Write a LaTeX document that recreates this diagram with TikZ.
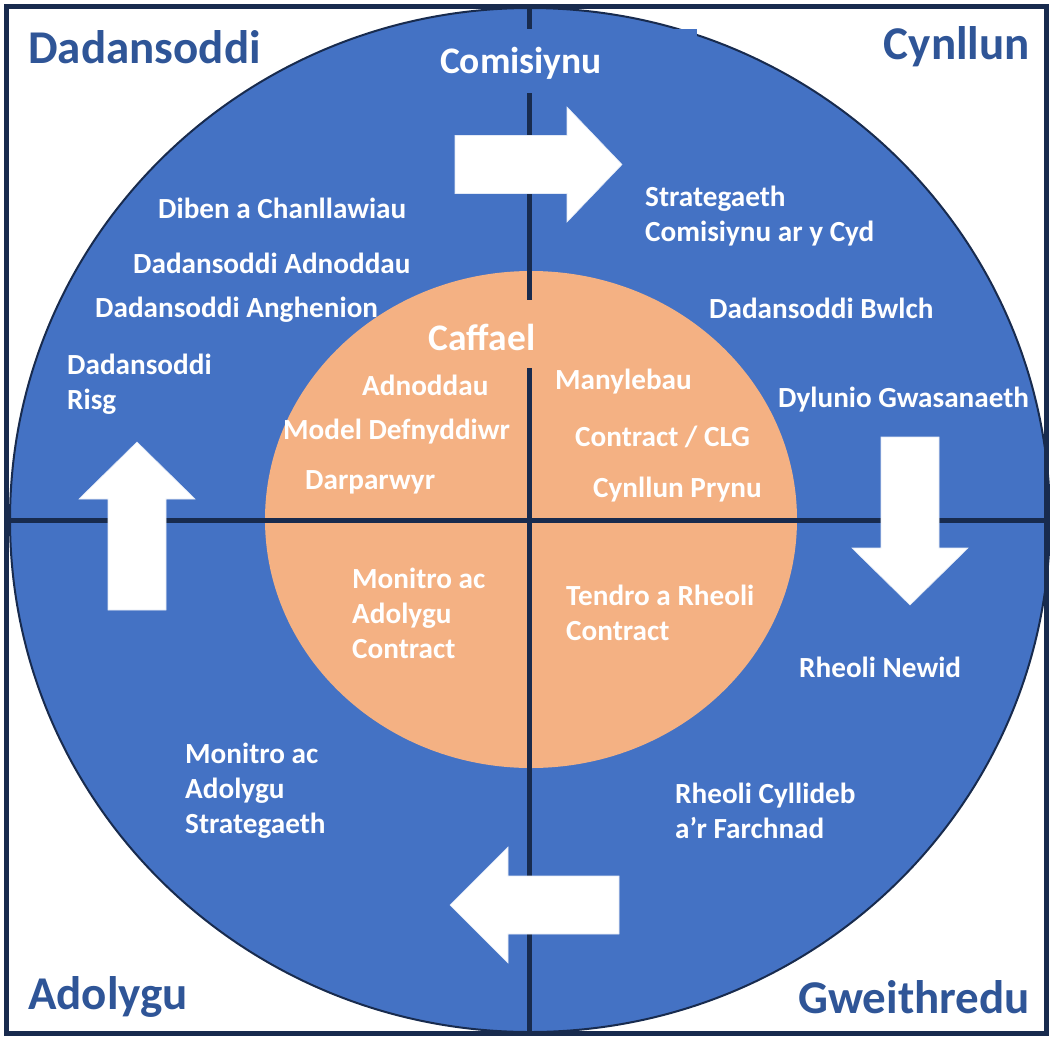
\documentclass[tikz,border=0pt]{standalone}
\usepackage{fontspec}
\setmainfont{Carlito}
\usetikzlibrary{positioning}

\definecolor{cblue}{RGB}{68,114,196}
\definecolor{corange}{RGB}{244,177,131}
\definecolor{cnavy}{RGB}{24,43,78}
\definecolor{ctitle}{RGB}{47,85,151}

\tikzset{
  corner/.style = {inner sep=0pt, text=ctitle, font=\fontsize{47}{56}\selectfont\bfseries},
  item/.style = {inner sep=0pt, text=white, align=left, anchor=west, font=\fontsize{29.2}{35}\selectfont\bfseries},
  head/.style = {inner sep=0pt, text=white, font=\fontsize{37.5}{42}\selectfont\bfseries},
  blockarrow/.style = {fill=white, draw=white!85!cblue, line width=0.6pt},
  divider/.style = {draw=cnavy, line width=5pt},
}

\begin{document}
\begin{tikzpicture}[x=1pt, y=-1pt]
\useasboundingbox (0,0) rectangle (1050,1037);

% wheel
\draw[fill=cblue, draw=cnavy, line width=2pt] (530,520) ellipse [x radius=520, y radius=512];
\fill[corange] (531,519.5) ellipse [x radius=266, y radius=248.5];

% cross
\coordinate (top) at (529,7);
\coordinate (bottom) at (529,1033);
\coordinate (left) at (7,520);
\coordinate (right) at (1046,520);
\draw[divider] (top) -- (bottom);
\draw[divider] (left) -- (right);

% frame
\draw[cnavy, line width=5pt] (6.5,6.5) rectangle (1046,1033);

% headings
\fill[cblue] (420,29) rectangle (697,93);
\node[head] (comisiynu) at (521,63) {Comisiynu};
\fill[corange] (420,300) rectangle (640,368);
\node[head] (caffael) at (482,337) {Caffael};

% arrows
\fill[blockarrow] (455,135.5) -- (567,135.5) -- (567,107) -- (622,164.5) -- (567,222) -- (567,193.5) -- (455,193.5) -- cycle;
\fill[blockarrow] (881,437) -- (939,437) -- (939,548) -- (968,548) -- (910,605) -- (852,548) -- (881,548) -- cycle;
\fill[blockarrow] (619,876) -- (508,876) -- (508,847) -- (450,905) -- (508,963) -- (508,934) -- (619,934) -- cycle;
\fill[blockarrow] (108,610) -- (108,499) -- (79,499) -- (137,442) -- (195,499) -- (166,499) -- (166,610) -- cycle;

% corners
\node[corner, anchor=west] (dadansoddi) at (28,47) {Dadansoddi};
\node[corner, anchor=east] (cynllun) at (1030,47) {Cynllun};
\node[corner, anchor=west] (adolygu) at (28,997) {Adolygu};
\node[corner, anchor=east] (gweithredu) at (1030,997) {Gweithredu};

% outer ring
\node[item] (diben) at (158,208) {Diben a Chanllawiau};
\node[item] (dadadnoddau) at (133,263) {Dadansoddi Adnoddau};
\node[item] (anghenion) at (95,310) {Dadansoddi Anghenion};
\node[item] (risg) at (67,384.5) {Dadansoddi\\Risg};
\node[item] (strategaeth) at (645,216.5) {Strategaeth\\Comisiynu ar y Cyd};
\node[item] (bwlch) at (709,308) {Dadansoddi Bwlch};
\node[item] (dylunio) at (778,400) {Dylunio Gwasanaeth};
\node[item] (newid) at (799,667) {Rheoli Newid};
\node[item] (cyllideb) at (675,811) {Rheoli Cyllideb\\a’r Farchnad};
\node[item] (monstrat) at (185,791) {Monitro ac\\Adolygu\\Strategaeth};

% inner ring
\node[item] (adnoddau) at (362,385) {Adnoddau};
\node[item] (model) at (283,432) {Model Defnyddiwr};
\node[item] (darparwyr) at (305,482) {Darparwyr};
\node[item] (manylebau) at (555,382) {Manylebau};
\node[item] (contract) at (575,437) {Contract / CLG};
\node[item] (prynu) at (593,490) {Cynllun Prynu};
\node[item] (moncon) at (352,613) {Monitro ac\\Adolygu\\Contract};
\node[item] (tendro) at (566,612.5) {Tendro a Rheoli\\Contract};
\end{tikzpicture}
\end{document}
